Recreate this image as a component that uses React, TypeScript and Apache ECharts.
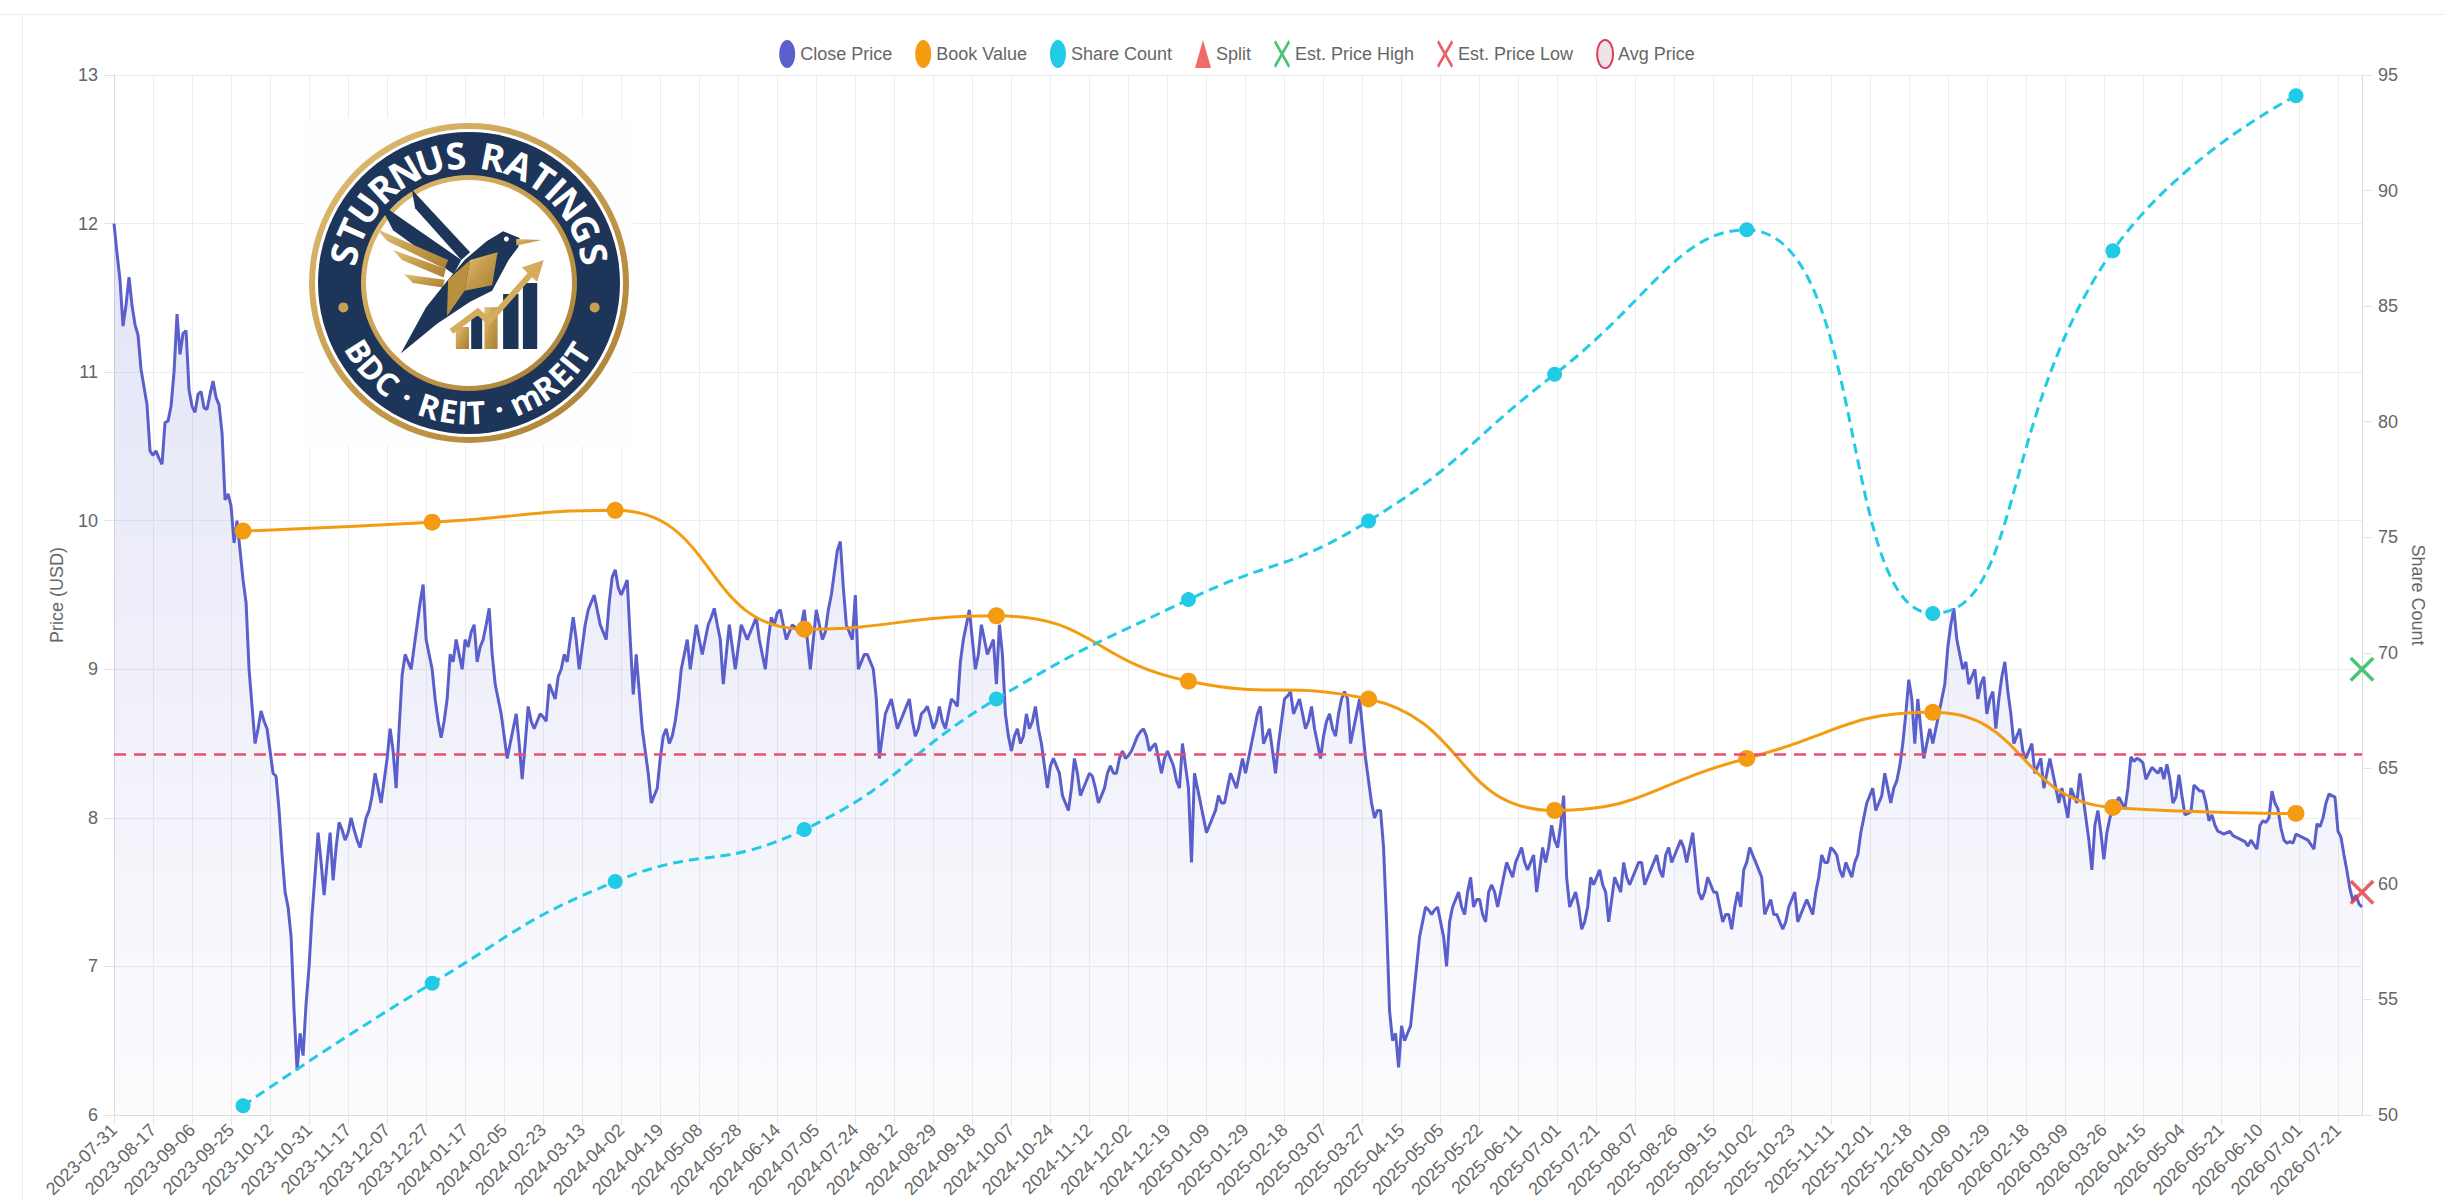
import React, { useEffect, useRef } from 'react';
import * as echarts from 'echarts';

// ---------- DATA ----------
const startDate = '2023-07-31';
const dayCount = 750;
const marketHolidays = [
  '2023-09-04', '2023-11-23', '2023-12-25',
  '2024-01-01', '2024-01-15', '2024-02-19', '2024-03-29', '2024-05-27', '2024-06-19', '2024-07-04',
  '2024-09-02', '2024-11-28', '2024-12-25',
  '2025-01-01', '2025-01-20', '2025-02-17', '2025-04-18', '2025-05-26', '2025-06-19', '2025-07-04',
  '2025-09-01', '2025-11-27', '2025-12-25',
  '2026-01-01', '2026-01-19', '2026-02-16', '2026-04-03', '2026-05-25', '2026-06-19', '2026-07-03',
];
const missingDays = ['2025-03-14', '2025-10-13', '2025-10-14', '2026-01-02', '2026-06-22'];

const closePrice = [
  12.00, 11.80, 11.62, 11.31, 11.45, 11.64, 11.45, 11.32, 11.25, 11.02, 10.90, 10.78, 10.47,
  10.44, 10.47, 10.42, 10.38, 10.66, 10.67, 10.77, 11.00, 11.39, 11.12, 11.26, 11.28, 10.88,
  10.77, 10.73, 10.85, 10.87, 10.76, 10.75, 10.85, 10.94, 10.83, 10.78, 10.59, 10.14, 10.18,
  10.10, 9.85, 10.00, 9.80, 9.60, 9.45, 9.00, 8.75, 8.50, 8.60, 8.72, 8.65, 8.60,
  8.45, 8.30, 8.28, 8.05, 7.75, 7.50, 7.40, 7.20, 6.70, 6.30, 6.55, 6.40, 6.75,
  7.00, 7.35, 7.62, 7.90, 7.70, 7.48, 7.70, 7.90, 7.58, 7.80, 7.97, 7.92, 7.85,
  7.90, 8.00, 7.92, 7.85, 7.80, 7.90, 8.00, 8.05, 8.15, 8.30, 8.20, 8.10, 8.25,
  8.40, 8.60, 8.45, 8.20, 8.60, 8.96, 9.10, 9.05, 9.00, 9.15, 9.30, 9.45, 9.57,
  9.20, 9.10, 9.00, 8.80, 8.65, 8.54, 8.65, 8.80, 9.10, 9.05, 9.20, 9.10, 9.00,
  9.20, 9.15, 9.25, 9.30, 9.05, 9.15, 9.20, 9.30, 9.41, 9.10, 8.90, 8.80, 8.70,
  8.55, 8.40, 8.50, 8.60, 8.70, 8.50, 8.26, 8.50, 8.75, 8.65, 8.60, 8.65, 8.70,
  8.68, 8.65, 8.90, 8.85, 8.80, 8.95, 9.00, 9.10, 9.05, 9.20, 9.35, 9.20, 9.00,
  9.15, 9.30, 9.40, 9.45, 9.50, 9.40, 9.30, 9.25, 9.20, 9.45, 9.62, 9.67, 9.55,
  9.50, 9.55, 9.60, 9.20, 8.83, 9.10, 8.85, 8.60, 8.45, 8.30, 8.10, 8.15, 8.20,
  8.40, 8.55, 8.60, 8.50, 8.55, 8.65, 8.80, 9.00, 9.10, 9.20, 9.00, 9.15, 9.30,
  9.20, 9.10, 9.20, 9.30, 9.35, 9.41, 9.30, 9.20, 8.90, 9.10, 9.30, 9.15, 9.00,
  9.15, 9.30, 9.25, 9.20, 9.25, 9.30, 9.35, 9.20, 9.10, 9.00, 9.20, 9.35, 9.30,
  9.38, 9.40, 9.30, 9.20, 9.25, 9.30, 9.28, 9.25, 9.30, 9.40, 9.20, 9.00, 9.20,
  9.40, 9.30, 9.20, 9.25, 9.40, 9.50, 9.65, 9.80, 9.86, 9.55, 9.30, 9.25, 9.20,
  9.50, 9.00, 9.05, 9.10, 9.10, 9.05, 9.00, 8.80, 8.40, 8.55, 8.70, 8.75, 8.80,
  8.70, 8.60, 8.65, 8.70, 8.75, 8.80, 8.65, 8.55, 8.60, 8.70, 8.72, 8.75, 8.68,
  8.60, 8.65, 8.75, 8.65, 8.60, 8.70, 8.80, 8.78, 8.75, 9.05, 9.20, 9.30, 9.40,
  9.20, 9.00, 9.10, 9.30, 9.20, 9.10, 9.15, 9.20, 8.90, 9.30, 9.10, 8.70, 8.55,
  8.45, 8.55, 8.60, 8.50, 8.55, 8.70, 8.60, 8.65, 8.75, 8.60, 8.50, 8.35, 8.20,
  8.35, 8.40, 8.35, 8.30, 8.15, 8.10, 8.05, 8.20, 8.40, 8.30, 8.15, 8.20, 8.25,
  8.30, 8.28, 8.20, 8.10, 8.15, 8.20, 8.30, 8.35, 8.30, 8.30, 8.40, 8.45, 8.40,
  8.42, 8.45, 8.50, 8.55, 8.58, 8.60, 8.55, 8.45, 8.48, 8.50, 8.40, 8.30, 8.40,
  8.45, 8.40, 8.35, 8.25, 8.20, 8.50, 8.35, 8.20, 7.70, 8.30, 8.20, 8.10, 8.00,
  7.90, 7.95, 8.00, 8.05, 8.15, 8.10, 8.10, 8.20, 8.30, 8.25, 8.20, 8.30, 8.40,
  8.30, 8.40, 8.50, 8.60, 8.70, 8.75, 8.50, 8.55, 8.60, 8.45, 8.30, 8.50, 8.65,
  8.80, 8.82, 8.85, 8.70, 8.75, 8.80, 8.70, 8.60, 8.65, 8.75, 8.60, 8.50, 8.40,
  8.55, 8.65, 8.70, 8.60, 8.55, 8.70, 8.80, 8.85, 8.80, 8.50, 8.60, 8.70, 8.80,
  8.60, 8.40, 8.25, 8.10, 8.00, 8.05, 8.05, 7.80, 7.30, 6.70, 6.50, 6.55, 6.32,
  6.60, 6.50, 6.55, 6.60, 6.80, 7.00, 7.20, 7.30, 7.40, 7.38, 7.35, 7.38, 7.40,
  7.30, 7.20, 7.00, 7.30, 7.40, 7.45, 7.50, 7.40, 7.35, 7.50, 7.60, 7.40, 7.45,
  7.45, 7.35, 7.30, 7.50, 7.55, 7.50, 7.40, 7.50, 7.60, 7.70, 7.65, 7.60, 7.70,
  7.75, 7.80, 7.70, 7.65, 7.70, 7.75, 7.50, 7.65, 7.80, 7.70, 7.80, 7.95, 7.85,
  7.80, 7.95, 8.15, 7.60, 7.40, 7.45, 7.50, 7.40, 7.25, 7.30, 7.40, 7.60, 7.55,
  7.60, 7.65, 7.55, 7.50, 7.30, 7.45, 7.60, 7.55, 7.50, 7.70, 7.60, 7.55, 7.60,
  7.65, 7.70, 7.70, 7.55, 7.60, 7.65, 7.70, 7.75, 7.65, 7.60, 7.75, 7.80, 7.70,
  7.75, 7.80, 7.85, 7.80, 7.70, 7.80, 7.90, 7.70, 7.50, 7.45, 7.50, 7.60, 7.55,
  7.50, 7.50, 7.40, 7.30, 7.35, 7.35, 7.25, 7.40, 7.50, 7.40, 7.65, 7.70, 7.80,
  7.75, 7.70, 7.65, 7.60, 7.35, 7.40, 7.45, 7.35, 7.35, 7.30, 7.25, 7.30, 7.40,
  7.45, 7.50, 7.30, 7.35, 7.40, 7.45, 7.40, 7.35, 7.50, 7.60, 7.75, 7.70, 7.70,
  7.80, 7.78, 7.75, 7.65, 7.60, 7.70, 7.65, 7.60, 7.70, 7.75, 7.90, 8.00, 8.10,
  8.15, 8.20, 8.05, 8.10, 8.15, 8.30, 8.20, 8.10, 8.20, 8.25, 8.35, 8.50, 8.70,
  8.93, 8.80, 8.50, 8.80, 8.60, 8.40, 8.50, 8.60, 8.50, 8.60, 8.70, 8.80, 8.90,
  9.15, 9.30, 9.41, 9.20, 9.10, 9.00, 9.05, 8.90, 8.95, 9.00, 8.80, 8.90, 8.95,
  8.70, 8.80, 8.85, 8.60, 8.80, 8.95, 9.05, 8.85, 8.70, 8.50, 8.55, 8.60, 8.45,
  8.40, 8.45, 8.50, 8.30, 8.35, 8.40, 8.20, 8.30, 8.40, 8.30, 8.20, 8.10, 8.20,
  8.10, 8.00, 8.20, 8.15, 8.10, 8.30, 8.15, 8.00, 7.85, 7.65, 7.95, 8.05, 7.90,
  7.72, 7.90, 8.00, 8.06, 8.10, 8.14, 8.10, 8.06, 8.20, 8.41, 8.38, 8.40, 8.39,
  8.37, 8.26, 8.30, 8.34, 8.32, 8.30, 8.34, 8.26, 8.36, 8.26, 8.10, 8.14, 8.29,
  8.15, 8.02, 8.03, 8.04, 8.22, 8.20, 8.18, 8.18, 8.10, 7.98, 8.02, 7.95, 7.91,
  7.90, 7.89, 7.90, 7.91, 7.88, 7.87, 7.86, 7.85, 7.84, 7.81, 7.85, 7.82, 7.79,
  7.95, 7.98, 7.97, 8.00, 8.18, 8.10, 8.06, 7.93, 7.85, 7.83, 7.84, 7.83, 7.89,
  7.88, 7.87, 7.86, 7.85, 7.82, 7.79, 7.96, 7.94, 8.00, 8.10, 8.16, 8.15, 8.14,
  7.91, 7.87, 7.75, 7.64, 7.52, 7.44, 7.48, 7.42, 7.40,
];

const quarterDates = [
  '2023-09-29', '2023-12-29', '2024-03-28', '2024-06-28', '2024-09-30', '2024-12-31',
  '2025-03-31', '2025-06-30', '2025-09-30', '2025-12-31', '2026-03-31', '2026-06-30',
];
const bookValue = [9.93, 9.99, 10.07, 9.27, 9.36, 8.92, 8.80, 8.05, 8.40, 8.71, 8.07, 8.03];
const shareCount = [50.4, 55.7, 60.1, 62.35, 68.0, 72.3, 75.7, 82.05, 88.3, 71.7, 87.4, 94.1];
const estPriceHigh = 9.0;
const estPriceLow = 7.5;
const avgPrice = 8.43;

const priceTicks = { min: 6, max: 13, interval: 1 };
const shareTicks = { min: 50, max: 95, interval: 5 };

// ---------- helpers ----------
function buildTradingDates(): string[] {
  const skip = new Set([...marketHolidays, ...missingDays]);
  const out: string[] = [];
  const d = new Date(startDate + 'T00:00:00Z');
  while (out.length < dayCount) {
    const wd = d.getUTCDay();
    const s = d.toISOString().slice(0, 10);
    if (wd !== 0 && wd !== 6 && !skip.has(s)) out.push(s);
    d.setUTCDate(d.getUTCDate() + 1);
  }
  return out;
}

const PRICE_COLOR = '#5a5fcc';
const BOOK_COLOR = '#f39c12';
const SHARE_COLOR = '#22cbe5';
const X_PATH = 'path://M2,0L10,8L18,0L20,2L12,10L20,18L18,20L10,12L2,20L0,18L8,10L0,2Z';
const ELLIPSE_PATH = 'path://M10,0C15.52,0,20,4.48,20,10C20,15.52,15.52,20,10,20C4.48,20,0,15.52,0,10C0,4.48,4.48,0,10,0Z';
const AXIS_TEXT = '#666';
const FONT = "'Liberation Sans', Arial, Helvetica, sans-serif";

// ---------- logo (decoration) ----------
const NAVY = '#1c3559';
const GOLD = {
  type: 'linear', x: 0, y: 0, x2: 1, y2: 1,
  colorStops: [
    { offset: 0, color: '#e2c27a' },
    { offset: 0.5, color: '#c49a4a' },
    { offset: 1, color: '#a97f35' },
  ],
};
const CHAR_W: Record<string, number> = {
  ' ': 0.32, '·': 0.4, I: 0.34, T: 0.66, m: 0.98, S: 0.7, U: 0.76, R: 0.74, N: 0.78,
  A: 0.78, G: 0.82, B: 0.74, D: 0.8, C: 0.74, E: 0.68,
};

function arcText(
  str: string, cx: number, cy: number, r: number, a0: number, a1: number, top: boolean, size: number,
) {
  const chars = str.split('');
  const centers: number[] = [];
  let acc = 0;
  chars.forEach((ch) => {
    const w = CHAR_W[ch] ?? 0.7;
    centers.push(acc + w / 2);
    acc += w;
  });
  const c0 = centers[0];
  const cN = centers[centers.length - 1];
  const els: any[] = [];
  chars.forEach((ch, i) => {
    if (ch === ' ') return;
    const deg = a0 + ((a1 - a0) * (centers[i] - c0)) / (cN - c0);
    const a = (deg * Math.PI) / 180;
    const rot = top ? -(a + Math.PI / 2) : Math.PI / 2 - a;
    els.push({
      type: 'text',
      x: cx + r * Math.cos(a),
      y: cy + r * Math.sin(a),
      rotation: rot,
      z: 20,
      style: {
        text: ch, fill: '#ffffff', fontSize: size, fontWeight: 'bold',
        fontFamily: "'Open Sans', 'Noto Sans', 'DejaVu Sans', sans-serif", align: 'center', verticalAlign: 'middle',
      },
    });
  });
  return els;
}

function poly(cx: number, cy: number, pts: number[][], fill: any, s = 1) {
  return { type: 'polygon', z: 20, shape: { points: pts.map(([x, y]) => [cx + x * s, cy + y * s]) }, style: { fill } };
}

function buildLogo(cx: number, cy: number) {
  const els: any[] = [];
  els.push({ type: 'rect', z: 15, shape: { x: cx - 164, y: cy - 165, width: 328, height: 328 }, style: { fill: '#fdfdfd' } });
  els.push({ type: 'circle', z: 16, shape: { cx, cy, r: 160 }, style: { fill: GOLD } });
  els.push({ type: 'circle', z: 16, shape: { cx, cy, r: 154 }, style: { fill: '#ffffff' } });
  els.push({ type: 'circle', z: 16, shape: { cx, cy, r: 151 }, style: { fill: NAVY } });
  els.push({ type: 'circle', z: 16, shape: { cx, cy, r: 108 }, style: { fill: GOLD } });
  els.push({ type: 'circle', z: 16, shape: { cx, cy, r: 103 }, style: { fill: '#ffffff' } });
  const dotA = (169 * Math.PI) / 180;
  const dotB = (11 * Math.PI) / 180;
  els.push({ type: 'circle', z: 20, shape: { cx: cx + 128 * Math.cos(dotA), cy: cy + 128 * Math.sin(dotA), r: 5 }, style: { fill: '#c9a052' } });
  els.push({ type: 'circle', z: 20, shape: { cx: cx + 128 * Math.cos(dotB), cy: cy + 128 * Math.sin(dotB), r: 5 }, style: { fill: '#c9a052' } });
  els.push(...arcText('STURNUS RATINGS', cx, cy, 129, -167, -13, true, 37));
  els.push(...arcText('BDC · REIT · mREIT', cx, cy, 129, 148, 33, false, 32));
  // bird
  const s = 1.1;
  els.push(poly(cx, cy, [[-82, -73], [-7, -21], [-14, -8], [-69, -48]], NAVY, s));
  els.push(poly(cx, cy, [[-52, -85], [1, -28], [-7, -21], [-49, -68]], NAVY, s));
  els.push(poly(cx, cy, [[-84, -49], [-19, -21], [-22, -13], [-74, -38]], GOLD, s));
  els.push(poly(cx, cy, [[-69, -30], [-21, -13], [-23, -5], [-61, -21]], GOLD, s));
  els.push(poly(cx, cy, [[-59, -8], [-22, -3], [-24, 4], [-51, 0]], GOLD, s));
  els.push(poly(cx, cy, [[16, -38], [31, -47], [46, -41], [45, -33], [36, -21], [21, 7], [1, 17], [-29, 37], [-62, 64], [-39, 22], [-19, -3], [-4, -21]], NAVY, s));
  els.push(poly(cx, cy, [[43, -40], [66, -39], [43, -34]], GOLD, s));
  els.push(poly(cx, cy, [[1, -21], [26, -28], [21, 2], [-4, 7]], GOLD, s));
  els.push(poly(cx, cy, [[-19, -3], [1, -21], [-4, 7], [-20, 30]], '#b8913f', s));
  els.push({ type: 'circle', z: 21, shape: { cx: cx + 34 * s, cy: cy - 40 * s, r: 2.5 }, style: { fill: '#ffffff' } });
  // bars
  const bars = [
    [-12, 40, 12, 20, GOLD], [2, 30, 10, 30, NAVY], [14, 22, 12, 38, GOLD], [31, 10, 14, 50, NAVY], [49, 0, 13, 60, NAVY],
  ];
  bars.forEach(([x, y, w, h, c]) => {
    els.push({ type: 'rect', z: 20, shape: { x: cx + (x as number) * s, y: cy + (y as number) * s, width: (w as number) * s, height: (h as number) * s }, style: { fill: c } });
  });
  els.push({
    type: 'polyline', z: 21,
    shape: { points: [[-16, 44], [8, 26], [18, 35], [56, -8]].map(([x, y]) => [cx + x * s, cy + y * s]) },
    style: { stroke: '#d4ad5c', lineWidth: 6, fill: null },
  });
  els.push(poly(cx, cy, [[48, -14], [68, -21], [62, -1]], '#d4ad5c', s));
  return els;
}

export default function App() {
  const ref = useRef<HTMLDivElement>(null);

  useEffect(() => {
    if (!ref.current) return;
    const chart = echarts.init(ref.current, undefined, { renderer: 'svg' });
    const dates = buildTradingDates();
    const lastDate = dates[dates.length - 1];

    const axisLabel = { fontSize: 18, color: AXIS_TEXT, fontFamily: FONT };
    const option: any = {
      animation: false,
      textStyle: { fontFamily: FONT },
      legend: {
        top: 34,
        left: 'center',
        itemWidth: 16,
        itemHeight: 28,
        itemGap: 23,
        symbolKeepAspect: false,
        textStyle: { fontSize: 18, color: AXIS_TEXT, fontFamily: FONT },
        data: [
          { name: 'Close Price', icon: ELLIPSE_PATH },
          { name: 'Book Value', icon: ELLIPSE_PATH },
          { name: 'Share Count', icon: ELLIPSE_PATH },
          { name: 'Split', icon: 'triangle' },
          { name: 'Est. Price High', icon: X_PATH },
          { name: 'Est. Price Low', icon: X_PATH },
          { name: 'Avg Price', icon: ELLIPSE_PATH, itemStyle: { color: '#eee3e6', borderColor: '#df3a5f', borderWidth: 2 } },
        ],
      },
      grid: { left: 92, right: 90, top: 75, bottom: 86 },
      xAxis: {
        type: 'category',
        data: dates,
        boundaryGap: false,
        axisLine: { lineStyle: { color: '#dcdcdc' } },
        axisTick: { show: true, interval: 12, length: 10, lineStyle: { color: '#e3e3e3' } },
        axisLabel: { ...axisLabel, interval: 12, rotate: 45, margin: 12 },
        splitLine: { show: true, interval: 12, lineStyle: { color: '#ededed' } },
      },
      yAxis: [
        {
          type: 'value',
          ...priceTicks,
          name: 'Price (USD)',
          nameLocation: 'middle',
          nameGap: 48,
          nameTextStyle: { fontSize: 18, color: AXIS_TEXT, fontFamily: FONT },
          axisLine: { show: true, lineStyle: { color: '#dcdcdc' } },
          axisTick: { show: true, length: 10, lineStyle: { color: '#e3e3e3' } },
          axisLabel: { ...axisLabel, margin: 16 },
          splitLine: { show: true, lineStyle: { color: '#ededed' } },
        },
        {
          type: 'value',
          ...shareTicks,
          position: 'right',
          name: 'Share Count',
          nameLocation: 'middle',
          nameRotate: -90,
          nameGap: 46,
          nameTextStyle: { fontSize: 18, color: AXIS_TEXT, fontFamily: FONT },
          axisLine: { show: true, lineStyle: { color: '#dcdcdc' } },
          axisTick: { show: true, length: 10, lineStyle: { color: '#e3e3e3' } },
          axisLabel: { ...axisLabel, margin: 16 },
          splitLine: { show: false },
        },
      ],
      series: [
        {
          name: 'Close Price',
          type: 'line',
          data: closePrice,
          yAxisIndex: 0,
          symbol: 'none',
          showSymbol: false,
          lineStyle: { color: PRICE_COLOR, width: 3 },
          itemStyle: { color: PRICE_COLOR },
          areaStyle: {
            color: {
              type: 'linear', x: 0, y: 0, x2: 0, y2: 1,
              colorStops: [
                { offset: 0, color: 'rgba(90,95,204,0.24)' },
                { offset: 1, color: 'rgba(90,95,204,0.03)' },
              ],
            },
          },
          z: 2,
        },
        {
          name: 'Book Value',
          type: 'line',
          yAxisIndex: 0,
          data: quarterDates.map((d, i) => [d, bookValue[i]]),
          smooth: true,
          symbol: 'circle',
          symbolSize: 17,
          showSymbol: true,
          showAllSymbol: true,
          lineStyle: { color: BOOK_COLOR, width: 3 },
          itemStyle: { color: BOOK_COLOR },
          z: 4,
        },
        {
          name: 'Share Count',
          type: 'line',
          yAxisIndex: 1,
          data: quarterDates.map((d, i) => [d, shareCount[i]]),
          smooth: true,
          symbol: 'circle',
          symbolSize: 15,
          showSymbol: true,
          showAllSymbol: true,
          lineStyle: { color: SHARE_COLOR, width: 3, type: [10, 6] },
          itemStyle: { color: SHARE_COLOR },
          z: 4,
        },
        {
          name: 'Split',
          type: 'scatter',
          data: [],
          symbol: 'triangle',
          itemStyle: { color: '#ef4444' },
        },
        {
          name: 'Est. Price High',
          type: 'scatter',
          data: [[lastDate, estPriceHigh]],
          symbol: X_PATH,
          symbolSize: 25,
          itemStyle: { color: '#22b455' },
          z: 6,
        },
        {
          name: 'Est. Price Low',
          type: 'scatter',
          data: [[lastDate, estPriceLow]],
          symbol: X_PATH,
          symbolSize: 25,
          itemStyle: { color: '#e5393f' },
          z: 6,
        },
        {
          name: 'Avg Price',
          type: 'line',
          data: [],
          symbol: 'circle',
          itemStyle: { color: '#eee3e6', borderColor: '#df3a5f', borderWidth: 2 },
          markLine: {
            silent: true,
            symbol: ['none', 'none'],
            label: { show: false },
            itemStyle: { color: '#ec4d72' },
            lineStyle: { color: '#ec4d72', width: 2.5, type: [12, 8], opacity: 1 },
            emphasis: { disabled: true },
            data: [{ yAxis: avgPrice, lineStyle: { color: '#ec4d72' } }],
          },
          z: 3,
        },
      ],
      graphic: { elements: buildLogo(447, 283) },
    };
    chart.setOption(option);
    return () => chart.dispose();
  }, []);

  return (
    <div style={{ position: 'fixed', left: 0, top: 0, width: 2445, height: 1201, overflow: 'hidden', background: '#fff' }}>
      <div style={{ position: 'absolute', left: 0, top: 14, width: 2445, height: 1, background: '#ececec' }} />
      <div style={{ position: 'absolute', left: 22, top: 14, width: 1, height: 1187, background: '#ececec' }} />
      <div ref={ref} style={{ position: 'absolute', left: 22, top: 0, width: 2430, height: 1201 }} />
    </div>
  );
}
